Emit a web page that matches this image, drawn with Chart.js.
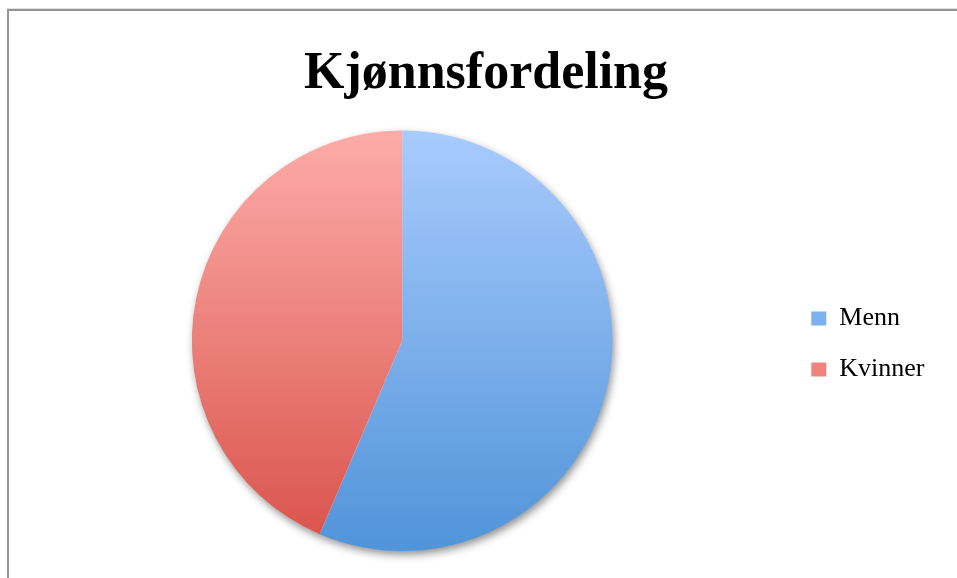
<!DOCTYPE html>
<html>
<head>
<meta charset="utf-8">
<script src="https://cdn.jsdelivr.net/npm/chart.js@4.4.1/dist/chart.umd.min.js"></script>
<style>
  html, body { margin: 0; padding: 0; background: #fff; }
  #frame { position: absolute; left: 7px; top: 9px; width: 950px; height: 569px;
           border-left: 2px solid #959595; border-top: 2px solid #959595; box-sizing: border-box;
           box-shadow: 0 -1px 0 #e2e2e2; }
  #wrap { position: absolute; left: 0; top: 0; width: 948px; height: 567px; }
</style>
</head>
<body>
<div id="frame"><div id="wrap"><canvas id="c" width="948" height="567"></canvas></div></div>
<script>
const titleText = 'Kjønnsfordeling';
const categories = ['Menn', 'Kvinner'];
const values = [22, 17];
const topColors = ['#a9cbfd', '#fdaca9'];
const bottomColors = ['#5094d9', '#d9524a'];
const legendColors = ['#7db1ef', '#ef837e'];

const shadowPlugin = {
  id: 'pieShadow',
  beforeDatasetsDraw(chart) {
    const arc = chart.getDatasetMeta(0).data[0];
    if (!arc) return;
    const ctx = chart.ctx;
    ctx.save();
    ctx.shadowColor = 'rgba(0,0,0,0.45)';
    ctx.shadowBlur = 9;
    ctx.shadowOffsetX = 2;
    ctx.shadowOffsetY = 4;
    ctx.beginPath();
    ctx.arc(arc.x, arc.y, arc.outerRadius - 0.5, 0, Math.PI * 2);
    ctx.fillStyle = '#ffffff';
    ctx.fill();
    ctx.restore();
  }
};

function grad(context) {
  const chart = context.chart;
  const area = chart.chartArea;
  const i = context.dataIndex;
  if (!area) return topColors[i];
  const g = chart.ctx.createLinearGradient(0, area.top, 0, area.bottom);
  g.addColorStop(0, topColors[i]);
  g.addColorStop(1, bottomColors[i]);
  return g;
}

new Chart(document.getElementById('c'), {
  type: 'pie',
  data: {
    labels: categories,
    datasets: [{ data: values, backgroundColor: grad, borderWidth: 0 }]
  },
  plugins: [shadowPlugin],
  options: {
    responsive: false,
    animation: false,
    layout: { padding: { left: 9, right: 3, top: 0, bottom: 27 } },
    plugins: {
      tooltip: { enabled: false },
      title: {
        display: true,
        text: titleText,
        color: '#000',
        font: { family: "'Liberation Serif', serif", size: 52, weight: 'bold' },
        padding: { top: 32, bottom: 25 }
      },
      legend: {
        position: 'right',
        align: 'center',
        title: { display: true, text: ' ', color: '#000', font: { size: 10 }, padding: { top: 57, bottom: 57 } },
        labels: {
          color: '#000',
          boxWidth: 15,
          boxHeight: 14,
          padding: 25,
          font: { family: "'Liberation Serif', serif", size: 26 },
          generateLabels(chart) {
            return categories.map((c, i) => ({
              text: c + '   ', fillStyle: legendColors[i], strokeStyle: legendColors[i],
              fontColor: '#000', lineWidth: 0, hidden: false, index: i
            }));
          }
        }
      }
    }
  }
});
</script>
</body>
</html>
